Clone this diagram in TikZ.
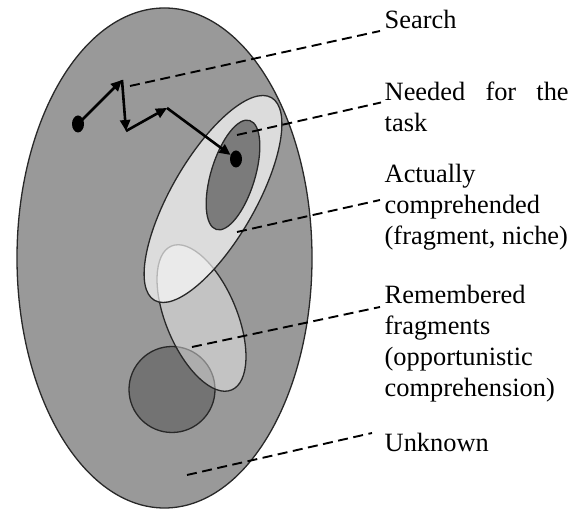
\documentclass[tikz,border=0pt]{standalone}
\usepackage{fontspec}
\setmainfont{Liberation Serif}
\usetikzlibrary{arrows.meta,shapes.geometric}
\definecolor{bigfill}{RGB}{153,153,153}
\definecolor{circfill}{RGB}{115,115,115}
\definecolor{needfill}{RGB}{123,123,123}
\definecolor{edge}{RGB}{40,40,40}
\begin{document}
\begin{tikzpicture}[x=1pt,y=1pt,
  region/.style={draw=edge, line width=1.3pt},
  leader/.style={draw=black, line width=1.9pt, dash pattern=on 10pt off 5.5pt},
  walk/.style={draw=black, line width=2.6pt, -{Triangle[length=11pt,width=10pt]}},
  dot/.style={ellipse, fill=black, minimum width=12pt, minimum height=17pt, inner sep=0pt},
  lbl/.style={anchor=base west, inner sep=0pt, align=left, font=\fontsize{26.4}{31}\selectfont}
]
\useasboundingbox (0,0) rectangle (580,510);
% regions
\draw[region, fill=bigfill] (164.5,252) ellipse [x radius=147.5, y radius=250];
\draw[region, fill=circfill] (172,120.5) circle [radius=43];
\draw[region, fill=white, fill opacity=0.42, rotate around={-67.3:(201.5,192)}] (201.5,192) ellipse [x radius=78, y radius=35.5];
\draw[region, fill=white, fill opacity=0.66, rotate around={60:(213,311)}] (213,311) ellipse [x radius=117, y radius=42];
\draw[region, fill=needfill, rotate around={73:(233,335)}] (233,335) ellipse [x radius=57, y radius=22];
% labels (anchored at the baseline of their last line)
\node[lbl] (search) at (384.5,481) {Search};
\node[lbl] (needed) at (384.5,378.3) {\makebox[184pt][s]{Needed for the}\\task};
\node[lbl] (comp) at (384.5,265) {Actually\\comprehended\\(fragment, niche)};
\node[lbl] (remem) at (384.5,113.3) {Remembered\\fragments\\(opportunistic\\comprehension)};
\node[lbl] (unknown) at (384.5,58.3) {Unknown};
% leader ends
\coordinate (searchA) at (130,424); \coordinate (searchB) at (380,479);
\coordinate (needA) at (237,375);   \coordinate (needB) at (381,407.5);
\coordinate (compA) at (237,278);   \coordinate (compB) at (380,310);
\coordinate (remA) at (192,163);    \coordinate (remB) at (380,203);
\coordinate (unkA) at (187,35);     \coordinate (unkB) at (372,77);
\draw[leader] (searchA) -- (searchB);
\draw[leader] (needA) -- (needB);
\draw[leader] (compA) -- (compB);
\draw[leader] (remA) -- (remB);
\draw[leader] (unkA) -- (unkB);
% search walk
\node[dot] (d0) at (78,386) {};
\node[dot] (d4) at (236,351) {};
\coordinate (p1) at (122,430);
\coordinate (p2) at (126,379);
\coordinate (p3) at (167,402);
\draw[walk] (d0.center) -- (p1);
\draw[walk] (p1) -- (p2);
\draw[walk] (p2) -- (p3);
\draw[walk] (p3) -- (d4);
\end{tikzpicture}
\end{document}
